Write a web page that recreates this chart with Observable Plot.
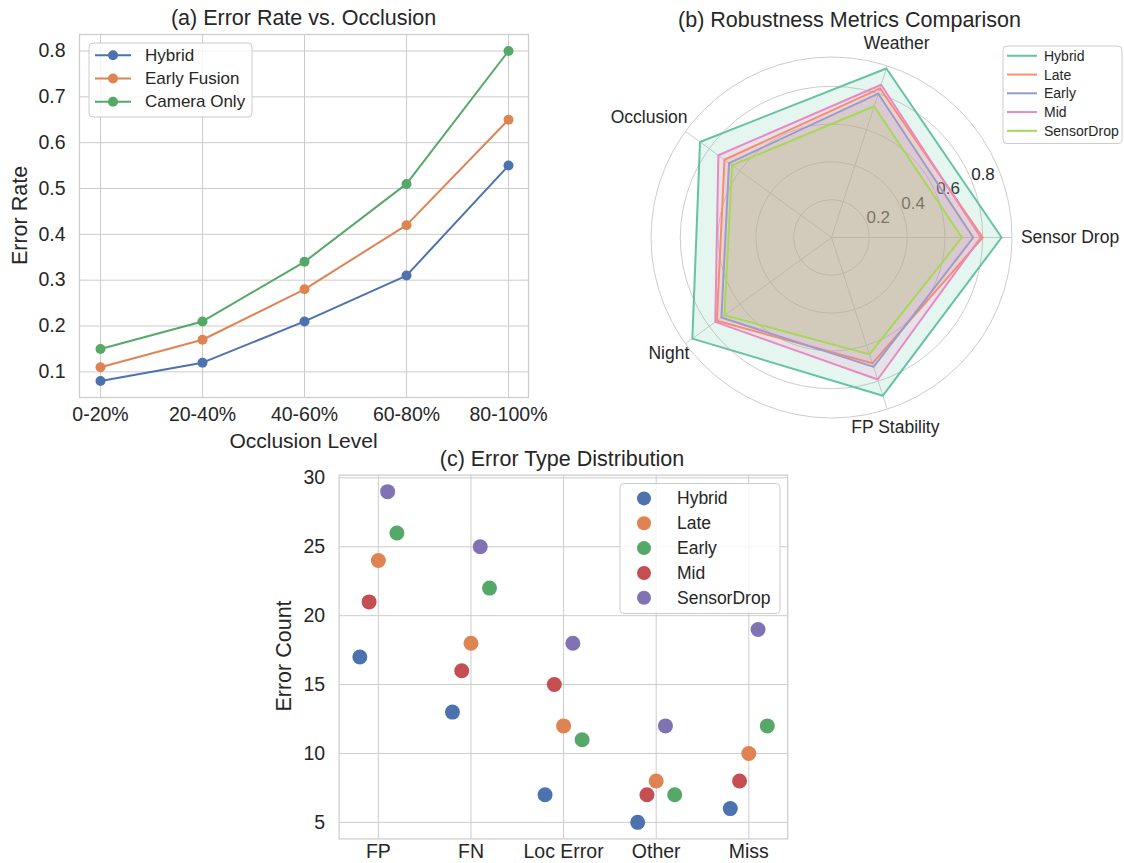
<!DOCTYPE html>
<html><head><meta charset="utf-8">
<script src="https://cdn.jsdelivr.net/npm/d3@7"></script>
<script src="https://cdn.jsdelivr.net/npm/@observablehq/plot@0.6"></script>
<style>
html,body{margin:0;padding:0;background:#fff;}
#root{position:relative;width:1124px;height:863px;overflow:hidden;font-family:"Liberation Sans",Arial,sans-serif;color:#262626;background:#fff;}
.panel{position:absolute;}
.panel svg{overflow:visible;background:transparent;}
#overlay{position:absolute;left:0;top:0;pointer-events:none;}
</style></head><body><div id="root"></div>
<script>
// ---------------- DATA ----------------
// (a) Error rate vs occlusion
const occlusionLevels = ["0-20%", "20-40%", "40-60%", "60-80%", "80-100%"];
const lineSeries = ["Hybrid", "Early Fusion", "Camera Only"];
const hybridErr = [0.08, 0.12, 0.21, 0.31, 0.55];
const earlyFusionErr = [0.11, 0.17, 0.28, 0.42, 0.65];
const cameraOnlyErr = [0.15, 0.21, 0.34, 0.51, 0.80];
const errorRateTicks = [0.1, 0.2, 0.3, 0.4, 0.5, 0.6, 0.7, 0.8];

// (b) Robustness radar
const radarMetrics = ["Sensor Drop", "Weather", "Occlusion", "Night", "FP Stability"];
const radarAnglesDeg = [0, 72, 144, 216, 288];
const radarSeries = ["Hybrid", "Late", "Early", "Mid", "SensorDrop"];
const radarHybrid = [0.90, 0.94, 0.86, 0.91, 0.88];
const radarLate = [0.80, 0.83, 0.70, 0.75, 0.70];
const radarEarly = [0.75, 0.80, 0.67, 0.72, 0.72];
const radarMid = [0.79, 0.85, 0.74, 0.76, 0.79];
const radarSensorDrop = [0.69, 0.73, 0.65, 0.70, 0.65];
const radarTicks = [0.2, 0.4, 0.6, 0.8];
const radarMax = 0.955;

// (c) Error type distribution
const errorTypes = ["FP", "FN", "Loc Error", "Other", "Miss"];
const dotSeries = ["Hybrid", "Late", "Early", "Mid", "SensorDrop"];
const dotHybrid = [17, 13, 7, 5, 6];
const dotLate = [24, 18, 12, 8, 10];
const dotEarly = [26, 22, 11, 7, 12];
const dotMid = [21, 16, 15, 7, 8];
const dotSensorDrop = [29, 25, 18, 12, 19];
const dotOffsets = [-0.2, 0.0, 0.2, -0.1, 0.1];   // horizontal dodge per series
const errorCountTicks = [5, 10, 15, 20, 25, 30];

// ---------------- STYLE ----------------
const FONT = '"Liberation Sans", Arial, sans-serif';
const TXT = "#262626";
const GRID = "#cccccc";
const deepColors = ["#4C72B0", "#DD8452", "#55A868", "#C44E52", "#8172B3"];
const set2Colors = ["#66c2a5", "#fc8d62", "#8da0cb", "#e78ac3", "#a6d854"];
const lineColors = [deepColors[0], deepColors[1], deepColors[2]];

const root = document.getElementById("root");
function place(node, left, top, w, h) {
  const d = document.createElement("div");
  d.className = "panel";
  d.style.left = left + "px"; d.style.top = top + "px";
  d.style.width = w + "px"; d.style.height = h + "px";
  d.appendChild(node);
  root.appendChild(d);
}

// ---------------- (a) ----------------
const lineValues = [hybridErr, earlyFusionErr, cameraOnlyErr];
const lineData = lineSeries.flatMap((s, i) =>
  occlusionLevels.map((lvl, j) => ({series: s, level: lvl, value: lineValues[i][j]})));

const plotA = Plot.plot({
  width: 560, height: 450,
  marginLeft: 79, marginRight: 32, marginTop: 34, marginBottom: 53,
  style: {fontFamily: FONT, fontSize: "19.5px", color: TXT, background: "transparent", overflow: "visible"},
  x: {type: "point", domain: occlusionLevels, padding: 0.2, label: null, tickSize: 0, tickPadding: 10},
  y: {domain: [0.044, 0.836], ticks: errorRateTicks, tickFormat: d3.format(".1f"), label: null, tickSize: 0, tickPadding: 14},
  color: {domain: lineSeries, range: lineColors},
  marks: [
    Plot.gridX(occlusionLevels, {stroke: GRID, strokeOpacity: 1, strokeWidth: 1}),
    Plot.gridY(errorRateTicks, {stroke: GRID, strokeOpacity: 1, strokeWidth: 1}),
    Plot.frame({stroke: GRID, strokeWidth: 1.25}),
    Plot.line(lineData, {x: "level", y: "value", z: "series", stroke: "series", strokeWidth: 2}),
    Plot.dot(lineData, {x: "level", y: "value", fill: "series", r: 5})
  ]
});
place(plotA, 0, 0, 560, 450);

// ---------------- (b) ----------------
const RPX = 180.5;
const deg = Math.PI / 180;
const radarValues = [radarHybrid, radarLate, radarEarly, radarMid, radarSensorDrop];
const radarPolys = radarSeries.map((s, i) => radarMetrics.map((m, j) => ({
  series: s, metric: m, value: radarValues[i][j],
  px: radarValues[i][j] * Math.cos(radarAnglesDeg[j] * deg),
  py: radarValues[i][j] * Math.sin(radarAnglesDeg[j] * deg)
})));
// label placement (angle in degrees, radius in data units)
const radarLabelAngle = [0, 71.4, 146.6, 215.5, 288.6];
const radarLabelRadius = [1.262, 1.081, 1.156, 1.057, 1.059];
const radarLabelData = radarMetrics.map((m, j) => ({
  text: m,
  x: radarLabelRadius[j] * Math.cos(radarLabelAngle[j] * deg),
  y: radarLabelRadius[j] * Math.sin(radarLabelAngle[j] * deg)
}));
const rings = [...radarTicks, radarMax];
const rLabelAngle = 22.5 * deg;

const radarMarks = [
  Plot.dot(rings, {x: () => 0, y: () => 0, r: d => d, fill: "none", stroke: GRID, strokeWidth: 1}),
  Plot.link(radarAnglesDeg, {x1: () => 0, y1: () => 0,
    x2: a => radarMax * Math.cos(a * deg), y2: a => radarMax * Math.sin(a * deg),
    stroke: GRID, strokeWidth: 1}),
  Plot.text(radarTicks, {x: d => d * Math.cos(rLabelAngle), y: d => d * Math.sin(rLabelAngle),
    text: d => d.toFixed(1), textAnchor: "start", lineAnchor: "bottom", fontSize: 17, fill: TXT})
];
radarPolys.forEach((poly, i) => {
  radarMarks.push(Plot.line(poly, {x: "px", y: "py", curve: "linear-closed",
    stroke: set2Colors[i], strokeWidth: 2, fill: set2Colors[i], fillOpacity: 0.17}));
});
radarMarks.push(Plot.text(radarLabelData, {x: "x", y: "y", text: "text",
  textAnchor: "middle", lineAnchor: "middle", fontSize: 17.5, fill: TXT}));

const plotB = Plot.plot({
  width: 524, height: 430,
  marginLeft: 231 - RPX, marginRight: 524 - 231 - RPX, marginTop: 207 - RPX, marginBottom: 430 - 207 - RPX,
  style: {fontFamily: FONT, color: TXT, background: "transparent", overflow: "visible"},
  x: {domain: [-radarMax, radarMax], axis: null},
  y: {domain: [-radarMax, radarMax], axis: null},
  r: {type: "linear", domain: [0, radarMax], range: [0, RPX]},
  marks: radarMarks
});
place(plotB, 600, 30, 524, 430);

// ---------------- (c) ----------------
const dotValues = [dotHybrid, dotLate, dotEarly, dotMid, dotSensorDrop];
const dotData = dotSeries.flatMap((s, i) => errorTypes.map((t, j) => ({
  series: s, type: t, idx: j, offset: dotOffsets[i], value: dotValues[i][j]})));

const plotC = Plot.plot({
  width: 540, height: 423,
  marginLeft: 68.6, marginRight: 22.8, marginTop: 34.6, marginBottom: 24.6,
  style: {fontFamily: FONT, fontSize: "19.5px", color: TXT, background: "transparent", overflow: "visible"},
  x: {domain: [-0.424, 4.42], ticks: [0, 1, 2, 3, 4], tickFormat: i => errorTypes[i], label: null, tickSize: 0, tickPadding: 5},
  y: {domain: [3.8, 30.2], ticks: errorCountTicks, label: null, tickSize: 0, tickPadding: 14},
  color: {domain: dotSeries, range: deepColors},
  marks: [
    Plot.gridX([0, 1, 2, 3, 4], {stroke: GRID, strokeOpacity: 1, strokeWidth: 1}),
    Plot.gridY(errorCountTicks, {stroke: GRID, strokeOpacity: 1, strokeWidth: 1}),
    Plot.frame({stroke: GRID, strokeWidth: 1.25}),
    Plot.dot(dotData, {x: d => d.idx + d.offset, y: "value", fill: "series", r: 7.5})
  ]
});
place(plotC, 270, 440, 540, 423);

// ---------------- overlay: titles, axis labels, legends ----------------
const ov = d3.create("svg").attr("id", "overlay").attr("width", 1124).attr("height", 863)
  .style("font-family", FONT).style("overflow", "visible");

function label(txt, x, y, size, rotate) {
  const t = ov.append("text").attr("x", x).attr("y", y).attr("fill", TXT)
    .attr("font-size", size).attr("text-anchor", "middle").attr("dominant-baseline", "central").text(txt);
  if (rotate) t.attr("transform", `rotate(-90 ${x} ${y})`);
}
label("(a) Error Rate vs. Occlusion", 303.5, 17.5, 21.5);
label("Error Rate", 20, 215.5, 21.5, true);
label("Occlusion Level", 303.5, 440, 21);
label("(b) Robustness Metrics Comparison", 849.5, 20, 21.5);
label("(c) Error Type Distribution", 562, 459, 21.5);
label("Error Count", 284, 656, 21.5, true);

function legend(o) {
  const g = ov.append("g");
  g.append("rect").attr("x", o.x).attr("y", o.y).attr("width", o.w).attr("height", o.h)
    .attr("rx", 4).attr("fill", "#fff").attr("fill-opacity", 0.8).attr("stroke", GRID).attr("stroke-width", 1);
  o.labels.forEach((lab, i) => {
    const cy = o.row0 + i * o.step;
    if (o.line) g.append("line").attr("x1", o.sx0).attr("x2", o.sx1).attr("y1", cy).attr("y2", cy)
      .attr("stroke", o.colors[i]).attr("stroke-width", o.lw);
    if (o.dot) g.append("circle").attr("cx", o.dotX).attr("cy", cy).attr("r", o.dotR).attr("fill", o.colors[i]);
    g.append("text").attr("x", o.tx).attr("y", cy).attr("dominant-baseline", "central")
      .attr("font-size", o.fs).attr("fill", TXT).text(lab);
  });
}
legend({x: 89, y: 43, w: 163, h: 74, labels: lineSeries, colors: lineColors, row0: 55.2, step: 23.3,
  line: true, sx0: 95, sx1: 131, lw: 2, dot: true, dotX: 113, dotR: 5, tx: 145, fs: 17});
legend({x: 1003, y: 46, w: 119, h: 97.5, labels: radarSeries, colors: set2Colors, row0: 55.8, step: 18.75,
  line: true, sx0: 1007, sx1: 1037, lw: 2, dot: false, tx: 1044, fs: 14});
legend({x: 620, y: 483.5, w: 160, h: 130, labels: dotSeries, colors: deepColors, row0: 498.4, step: 24.85,
  line: false, dot: true, dotX: 644, dotR: 7, tx: 677, fs: 17.5});

root.appendChild(ov.node());
</script></body></html>
